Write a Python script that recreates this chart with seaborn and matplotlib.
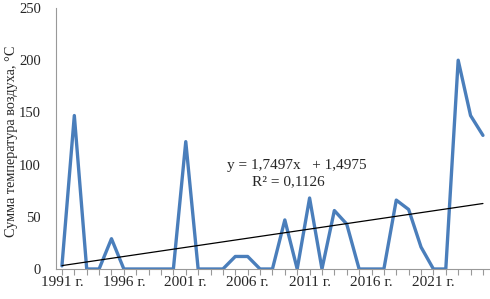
import matplotlib
matplotlib.use("Agg")
import matplotlib.pyplot as plt
import seaborn as sns
import numpy as np
import pandas as pd

years = list(range(1991, 2026))
values = [3, 147, 0, 0, 29, 0, 0, 0, 0, 0,
          122, 0, 0, 0, 12, 12, 0, 0, 47, 0,
          68, 0, 56, 43, 0, 0, 0, 66, 57, 21,
          0, 0, 200, 147, 128]
trend_slope = 1.7497
trend_intercept = 1.4975
trend_label = "y = 1,7497x   + 1,4975"
r2_label = "R² = 0,1126"
ylabel = "Сумма температура воздуха, °С"
tick_years = [1991, 1996, 2001, 2006, 2011, 2016, 2021]

sns.set_theme(style="white")
plt.rcParams['font.family'] = ['Liberation Serif', 'DejaVu Serif']

df = pd.DataFrame({"idx": np.arange(1, len(years) + 1), "year": years, "value": values})

fig = plt.figure(figsize=(4.9, 2.99), dpi=100)
ax = fig.add_axes([56/490, 1 - 269/299, 1 - 56/490, (269 - 8)/299])

sns.lineplot(data=df, x="idx", y="value", ax=ax, color="#4a7ebb", linewidth=2.4)

xt = np.array([df["idx"].iloc[0], df["idx"].iloc[-1]], dtype=float)
ax.plot(xt, trend_slope * xt + trend_intercept, color="black", linewidth=0.9)

ax.set_ylim(0, 250)
ax.set_xlim(0.52, 35.57)
ax.set_yticks([0, 50, 100, 150, 200, 250])
major_pos = [years.index(y) + 1 for y in tick_years]
ax.set_xticks(major_pos)
ax.set_xticklabels([f"{y} г." for y in tick_years])
ax.set_xticks(df["idx"], minor=True)
ax.tick_params(axis="x", which="both", direction="out", length=4, width=0.8,
               color="#999999", bottom=True, labelsize=11, pad=1)
ax.tick_params(axis="y", left=False, length=0, labelsize=10.5, pad=10.8)
ax.set_xlabel("")
ax.set_ylabel(ylabel, fontsize=10.3)
ax.yaxis.set_label_coords(-(56 - 18) / 434, 0.49)

for s in ["top", "right"]:
    ax.spines[s].set_visible(False)
for s in ["left", "bottom"]:
    ax.spines[s].set_color("#999999")
    ax.spines[s].set_linewidth(0.8)

ax.text(20.0, 99.6, trend_label, ha="center", va="center", fontsize=11)
ax.text(19.25, 83.3, r2_label, ha="center", va="center", fontsize=11)

fig.savefig("out.png", dpi=100)
